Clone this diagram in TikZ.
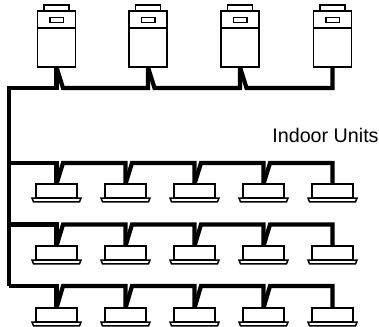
\documentclass[tikz,border=0pt]{standalone}
\usepackage{fontspec}
\setmainfont{Liberation Sans}
\usetikzlibrary{positioning}
\tikzset{
    unit_part/.style={
        rectangle, draw=black, fill=white, line width=1.5pt, inner sep=0pt, outer sep=0pt
    },
    outdoor_cap/.style={unit_part, minimum width=25pt, minimum height=6.5pt},
    outdoor_head/.style={unit_part, minimum width=38pt, minimum height=17pt},
    outdoor_body/.style={unit_part, minimum width=38pt, minimum height=39pt},
    outdoor_slot/.style={unit_part, minimum width=13.5pt, minimum height=5pt},
    indoor_box/.style={unit_part, minimum width=41pt, minimum height=14pt},
    indoor_base/.style={draw=black, fill=white, line width=1.5pt},
    pipe_line/.style={draw=black, line width=4.2pt, line join=miter}
}
\newcommand{\outdoorunit}[2]{
    \node[outdoor_cap] (#1_cap) at (#2, 8.5) {};
    \node[outdoor_head, below=-0.6pt of #1_cap] (#1_head) {};
    \node[outdoor_slot] (#1_slot) at (#2, 20) {};
    \node[outdoor_body, below=0pt of #1_head] (#1) {};
}
\newcommand{\indoorunit}[3]{
    \node[indoor_box] (#1) at (#2, #3) {};
    \draw[indoor_base] ([xshift=-4pt]#1.south west) -- ([xshift=4pt]#1.south east)
        -- ([xshift=2.5pt,yshift=-3.8pt]#1.south east) -- ([xshift=-2.5pt,yshift=-3.8pt]#1.south west) -- cycle;
}
\begin{document}
\begin{tikzpicture}[x=1pt, y=-1pt]
    \useasboundingbox (0, 0) rectangle (379, 326);

    % Outdoor units
    \outdoorunit{out_a}{56.5}
    \outdoorunit{out_b}{148}
    \outdoorunit{out_c}{240}
    \outdoorunit{out_d}{332.5}

    % Indoor units, first row
    \indoorunit{ind_a1}{56.5}{191}
    \indoorunit{ind_a2}{125.5}{191}
    \indoorunit{ind_a3}{194.5}{191}
    \indoorunit{ind_a4}{263.5}{191}
    \indoorunit{ind_a5}{332.5}{191}

    % Indoor units, second row
    \indoorunit{ind_b1}{56.5}{253}
    \indoorunit{ind_b2}{125.5}{253}
    \indoorunit{ind_b3}{194.5}{253}
    \indoorunit{ind_b4}{263.5}{253}
    \indoorunit{ind_b5}{332.5}{253}

    % Indoor units, third row
    \indoorunit{ind_c1}{56.5}{315}
    \indoorunit{ind_c2}{125.5}{315}
    \indoorunit{ind_c3}{194.5}{315}
    \indoorunit{ind_c4}{263.5}{315}
    \indoorunit{ind_c5}{332.5}{315}

    \node[font=\fontsize{19.7}{22}\selectfont, inner sep=0pt] (indoor_lbl) at (325.5, 135) {Indoor Units};

    % Trunk and its branch points
    \coordinate (trunk_out) at (9, 88);
    \coordinate (trunk_a) at (9, 163);
    \coordinate (trunk_b) at (9, 224.5);
    \coordinate (trunk_c) at (9, 286);
    \draw[pipe_line] (out_a.south) |- (trunk_out) -- (trunk_c);

    % Outdoor header
    \draw[pipe_line] (out_a.south) -- ([xshift=6.5pt]out_a.south |- trunk_out) -| (out_b.south);
    \draw[pipe_line] (out_b.south) -- ([xshift=6.5pt]out_b.south |- trunk_out) -| (out_c.south);
    \draw[pipe_line] (out_c.south) -- ([xshift=6.5pt]out_c.south |- trunk_out) -| (out_d.south);

    % First row header
    \draw[pipe_line] (trunk_a) -| (ind_a1.north);
    \draw[pipe_line] (ind_a1.north) -- ([xshift=6.5pt]ind_a1.north |- trunk_a) -| (ind_a2.north);
    \draw[pipe_line] (ind_a2.north) -- ([xshift=6.5pt]ind_a2.north |- trunk_a) -| (ind_a3.north);
    \draw[pipe_line] (ind_a3.north) -- ([xshift=6.5pt]ind_a3.north |- trunk_a) -| (ind_a4.north);
    \draw[pipe_line] (ind_a4.north) -- ([xshift=6.5pt]ind_a4.north |- trunk_a) -| (ind_a5.north);

    % Second row header
    \draw[pipe_line] (trunk_b) -| (ind_b1.north);
    \draw[pipe_line] (ind_b1.north) -- ([xshift=6.5pt]ind_b1.north |- trunk_b) -| (ind_b2.north);
    \draw[pipe_line] (ind_b2.north) -- ([xshift=6.5pt]ind_b2.north |- trunk_b) -| (ind_b3.north);
    \draw[pipe_line] (ind_b3.north) -- ([xshift=6.5pt]ind_b3.north |- trunk_b) -| (ind_b4.north);
    \draw[pipe_line] (ind_b4.north) -- ([xshift=6.5pt]ind_b4.north |- trunk_b) -| (ind_b5.north);

    % Third row header
    \draw[pipe_line] (trunk_c) -| (ind_c1.north);
    \draw[pipe_line] (ind_c1.north) -- ([xshift=6.5pt]ind_c1.north |- trunk_c) -| (ind_c2.north);
    \draw[pipe_line] (ind_c2.north) -- ([xshift=6.5pt]ind_c2.north |- trunk_c) -| (ind_c3.north);
    \draw[pipe_line] (ind_c3.north) -- ([xshift=6.5pt]ind_c3.north |- trunk_c) -| (ind_c4.north);
    \draw[pipe_line] (ind_c4.north) -- ([xshift=6.5pt]ind_c4.north |- trunk_c) -| (ind_c5.north);

\end{tikzpicture}
\end{document}
